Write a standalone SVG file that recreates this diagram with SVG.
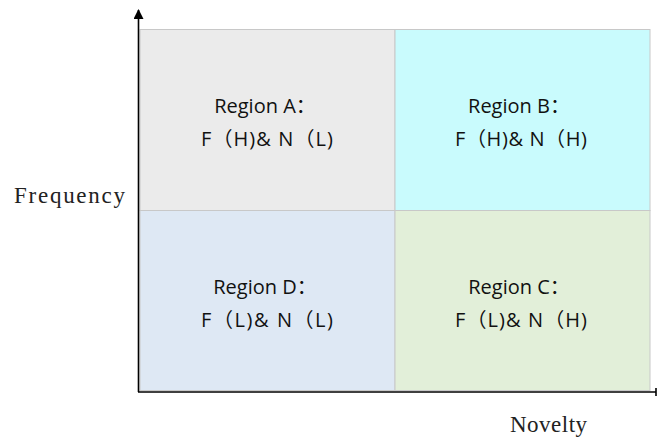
<svg xmlns="http://www.w3.org/2000/svg" width="657" height="438" viewBox="0 0 657 438">
  <style>
    .quad { stroke: #c8c8c8; stroke-width: 1; }
    .lbl { font-family: "Open Sans", "Liberation Sans", "Noto Sans CJK SC", sans-serif; font-size: 20px; fill: #111; text-anchor: middle; }
    .axis-lbl { font-family: "Liberation Serif", "Noto Sans CJK SC", serif; font-size: 23px; fill: #222; }
    .axis { stroke: #000; stroke-width: 1.6; fill: none; }
  </style>
  <defs>
    <marker id="arrow" viewBox="0 0 10 10" refX="9" refY="5" markerWidth="10" markerHeight="10" markerUnits="userSpaceOnUse" orient="auto">
      <path d="M0,0 L10,5 L0,10 z" fill="#000"/>
    </marker>
  </defs>

  <g id="regionA">
    <rect class="quad" x="140" y="29.5" width="255" height="181" fill="#ebebeb"/>
    <text class="lbl" x="265" y="113">Region A：</text>
    <text class="lbl" x="267" y="146" textLength="132" lengthAdjust="spacing">F（H)&amp; N（L)</text>
  </g>
  <g id="regionB">
    <rect class="quad" x="395" y="29.5" width="255" height="181" fill="#c9fbfd"/>
    <text class="lbl" x="519" y="113">Region B：</text>
    <text class="lbl" x="521" y="146" textLength="132" lengthAdjust="spacing">F（H)&amp; N（H)</text>
  </g>
  <g id="regionD">
    <rect class="quad" x="140" y="210.5" width="255" height="180" fill="#dee8f4"/>
    <text class="lbl" x="265" y="294">Region D：</text>
    <text class="lbl" x="267" y="327" textLength="132" lengthAdjust="spacing">F（L)&amp; N（L)</text>
  </g>
  <g id="regionC">
    <rect class="quad" x="395" y="210.5" width="255" height="180" fill="#e2efd9"/>
    <text class="lbl" x="519" y="294">Region C：</text>
    <text class="lbl" x="521" y="327" textLength="132" lengthAdjust="spacing">F（L)&amp; N（H)</text>
  </g>

  <g id="axes">
    <line class="axis" x1="138.5" y1="392" x2="138.5" y2="10" marker-end="url(#arrow)"/>
    <line class="axis" x1="138" y1="392" x2="656" y2="392"/>
    <line class="axis" x1="656" y1="388" x2="656" y2="396"/>
  </g>

  <g id="labels">
    <!-- spaced serif axis captions -->
    <text class="axis-lbl" x="14" y="203" textLength="111" lengthAdjust="spacing">Frequency</text>
    <text class="axis-lbl" x="510" y="432" textLength="77" lengthAdjust="spacing">Novelty</text>
  </g>
</svg>
